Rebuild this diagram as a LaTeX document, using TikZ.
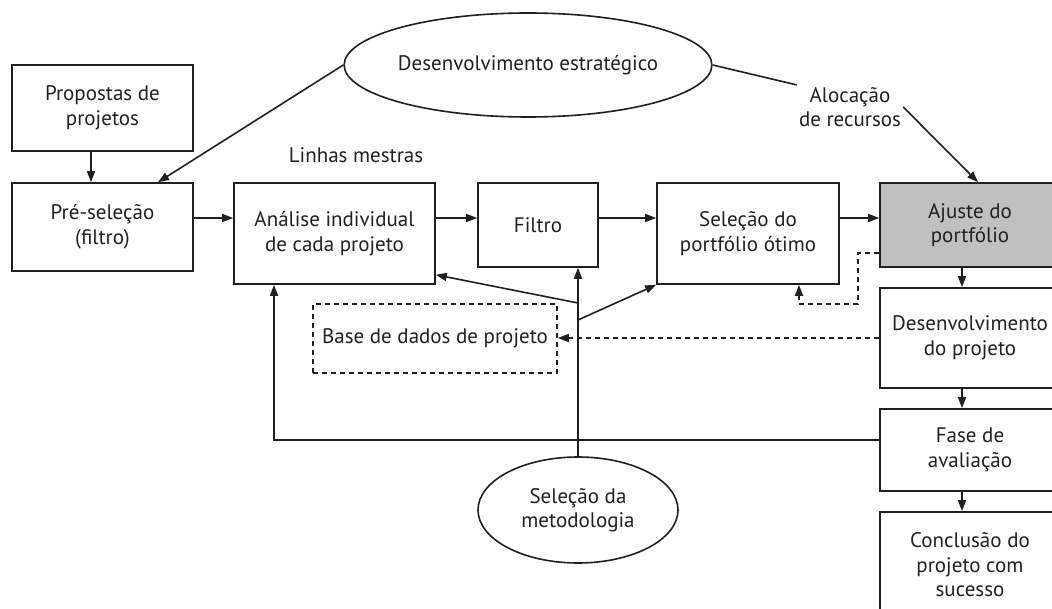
\documentclass[tikz,border=0pt]{standalone}
\usepackage{fontspec}
\setmainfont{PT Sans}
\usetikzlibrary{arrows.meta,shapes.geometric,calc}
\definecolor{ink}{HTML}{231F20}
\definecolor{boxgray}{HTML}{C0C0C0}
\begin{document}
\begin{tikzpicture}[x=1pt,y=-1pt,
  every node/.style={font=\fontsize{21}{24.5}\selectfont, text=ink, align=center},
  box/.style={draw=ink, line width=1.6pt, rectangle, inner sep=0pt},
  dbox/.style={box, dash pattern=on 5pt off 4pt},
  oval/.style={draw=ink, line width=1.6pt, ellipse, inner sep=0pt},
  arr/.style={draw=ink, line width=1.6pt, -{Triangle[length=11pt,width=8pt]}},
  ln/.style={draw=ink, line width=1.6pt},
  dsh/.style={dash pattern=on 5pt off 4pt}]
\useasboundingbox (0,0) rectangle (1052,609);
\clip (0,0) rectangle (1052,609);
% boxes
\node[box, minimum width=181pt, minimum height=86pt] (prop) at (102.5,108) {Propostas de\\projetos};
\node[box, minimum width=181pt, minimum height=88pt] (pre) at (102.5,227) {Pré-seleção\\(filtro)};
\node[box, minimum width=201pt, minimum height=101pt] (anal) at (334.5,233.5) {Análise individual\\de cada projeto};
\node[box, minimum width=120pt, minimum height=84pt] (filtro) at (538,225) {Filtro};
\node[box, minimum width=182pt, minimum height=101pt] (sel) at (748,233.5) {Seleção do\\portfólio ótimo};
\node[box, fill=boxgray, minimum width=180pt, minimum height=84pt] (ajuste) at (970,225) {Ajuste do\\portfólio};
\node[box, minimum width=180pt, minimum height=100pt] (desenv) at (970,338) {Desenvolvimento\\do projeto};
\node[box, minimum width=180pt, minimum height=82pt] (fase) at (970,450) {Fase de\\avaliação};
\node[box, minimum width=180pt, minimum height=106pt] (concl) at (970,565) {Conclusão do\\projeto com\\sucesso};
\node[dbox, minimum width=244pt, minimum height=69pt] (base) at (435,338.5) {Base de dados de projeto};
\node[oval, minimum width=342pt, minimum height=104pt] (estr) at (528,65) {Desenvolvimento estratégico};
\node[oval, minimum width=200pt, minimum height=106pt] (met) at (578,510) {Seleção da\\metodologia};
\node (linhas) at (356,155) {Linhas mestras};
\node[inner sep=2pt] (aloc) at (850,107) {Alocação\\de recursos};
% connectors
\draw[arr] ([xshift=-11.5pt]prop.south) -- ([xshift=-11.5pt]pre.north);
\draw[arr] (estr.west) -- ([xshift=55.5pt]pre.north);
\draw[arr] ([yshift=9pt]pre.east) -- ([yshift=9pt]pre.east -| anal.west);
\draw[arr] ([yshift=15.5pt]anal.east) -- ([yshift=15.5pt]anal.east -| filtro.west);
\draw[arr] ([yshift=7pt]filtro.east) -- ([yshift=7pt]filtro.east -| sel.west);
\draw[arr] ([yshift=15.5pt]sel.east) -- ([yshift=15.5pt]sel.east -| ajuste.west);
\draw[ln] (estr.east) -- (aloc.north west);
\draw[arr] (aloc.east) -- ([xshift=8pt]ajuste.north);
\draw[arr] ([xshift=-8pt]ajuste.south) -- ([xshift=-8pt]desenv.north);
\draw[arr] ([xshift=-8pt]desenv.south) -- ([xshift=-8pt]fase.north);
\draw[arr] ([xshift=-8pt]fase.south) -- ([xshift=-8pt]concl.north);
\draw[arr, dsh] ([yshift=-28pt]ajuste.west) -- ++(-21,0) -- ++(0,51) -| ([xshift=51pt]sel.south);
\draw[arr, dsh] (desenv.west) -- (desenv.west -| base.east);
\draw[arr] (met.north) -- (met.north |- filtro.south);
\coordinate (j1) at (578,303);
\coordinate (j2) at (578,320);
\draw[arr] (j1) -- ([yshift=10pt]anal.south east);
\draw[arr] (j2) -- (sel.south west);
\draw[arr] ([yshift=10pt]fase.west) -| ([xshift=-60.5pt]anal.south);
\end{tikzpicture}
\end{document}
